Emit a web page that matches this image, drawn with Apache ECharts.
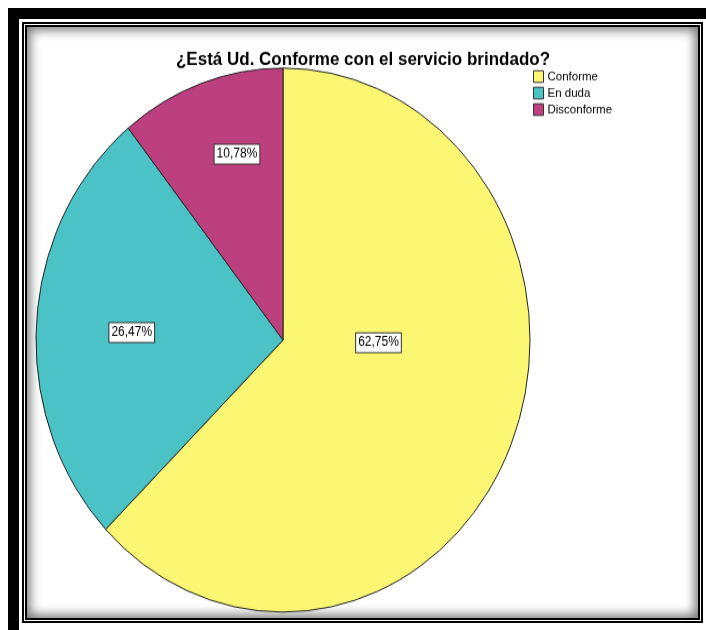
<!DOCTYPE html>
<html>
<head>
<meta charset="utf-8">
<script src="https://cdn.jsdelivr.net/npm/echarts@6/dist/echarts.min.js"></script>
<style>
  html, body { margin: 0; padding: 0; background: #fff; overflow: hidden; }
  body { width: 706px; height: 630px; position: relative; }
  .outer {
    position: absolute; left: 8px; top: 8px;
    width: 720px; height: 640px;
    border: 11px solid #000; box-sizing: border-box;
  }
  .inner {
    position: absolute; left: 22px; top: 22px;
    width: 681px; height: 601px; box-sizing: border-box;
    border: 5px double #000; background: #fff;
    box-shadow: inset 0 0 11px 3px rgba(0,0,0,0.55);
  }
  #chart {
    position: absolute; left: 0; top: 0;
    width: 706px; height: 572px;
    transform: scaleY(1.1012); transform-origin: 0 0;
  }
</style>
</head>
<body>
<div class="outer"></div>
<div class="inner"></div>
<div id="chart"></div>
<script>
// Survey answers and their shares (%)
const categories = ['Conforme', 'En duda', 'Disconforme'];
const shares = [62.75, 26.47, 10.78];
const titleText = '¿Está Ud. Conforme con el servicio brindado?';

// Slice colours and label nudges (px) relative to the default inside spot
const sliceColors = ['#FBF773', '#4AC2C6', '#BB407D'];
const labelNudge = [[-21, -47], [-25, 1], [-4, -49.5]];

const chart = echarts.init(document.getElementById('chart'), null, { renderer: 'canvas' });

chart.setOption({
  backgroundColor: 'transparent',
  animation: false,
  title: {
    text: titleText,
    left: 358, top: 41,
    textAlign: 'center',
    textStyle: { fontFamily: 'Liberation Sans, Arial, sans-serif', fontSize: 17, fontWeight: 'bold', color: '#000' }
  },
  legend: {
    orient: 'vertical',
    left: 533, top: 63.5,
    icon: 'rect',
    itemWidth: 10, itemHeight: 10.6,
    itemGap: 3,
    selectedMode: false,
    padding: 0,
    itemStyle: { borderColor: '#333', borderWidth: 1 },
    textStyle: { fontFamily: 'Liberation Sans, Arial, sans-serif', fontSize: 11.5, color: '#000', padding: [0, 0, 0, -1] },
    data: categories
  },
  series: [{
    type: 'pie',
    center: [283, 308.8],
    radius: [0, 247],
    startAngle: 90,
    clockwise: true,
    avoidLabelOverlap: false,
    emphasis: { disabled: true },
    itemStyle: { borderColor: '#222', borderWidth: 1 },
    label: {
      show: true,
      position: 'inside',
      formatter: p => p.value.toFixed(2).replace('.', ',') + '%',
      fontFamily: 'Liberation Sans, Arial, sans-serif',
      fontSize: 12,
      color: '#000',
      backgroundColor: '#fff',
      borderColor: '#333',
      borderWidth: 1,
      padding: [3, 2, 2, 2]
    },
    labelLine: { show: false },
    labelLayout: p => ({ dx: labelNudge[p.dataIndex][0], dy: labelNudge[p.dataIndex][1] }),
    data: categories.map((name, i) => ({
      name: name,
      value: shares[i],
      itemStyle: { color: sliceColors[i] }
    }))
  }]
});
</script>
</body>
</html>
